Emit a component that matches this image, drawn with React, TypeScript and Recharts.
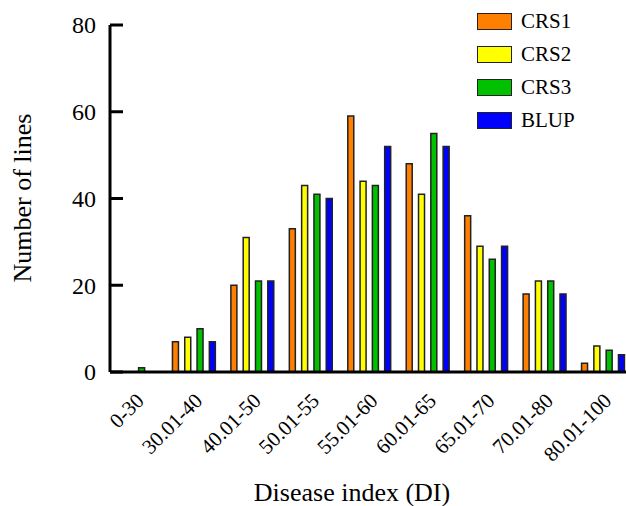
import { BarChart, Bar, XAxis, YAxis } from "recharts";

const categories = ["0-30", "30.01-40", "40.01-50", "50.01-55", "55.01-60", "60.01-65", "65.01-70", "70.01-80", "80.01-100"];
const crs1 = [0, 7, 20, 33, 59, 48, 36, 18, 2];
const crs2 = [0, 8, 31, 43, 44, 41, 29, 21, 6];
const crs3 = [1, 10, 21, 41, 43, 55, 26, 21, 5];
const blup = [0, 7, 21, 40, 52, 52, 29, 18, 4];
const yTicks = [0, 20, 40, 60, 80];

const seriesList = [
  { key: "CRS1", color: "#FF7F00" },
  { key: "CRS2", color: "#FFFF00" },
  { key: "CRS3", color: "#00C000" },
  { key: "BLUP", color: "#0000FF" },
];

const data = categories.map((c, i) => ({
  name: c,
  CRS1: crs1[i],
  CRS2: crs2[i],
  CRS3: crs3[i],
  BLUP: blup[i],
}));

const FONT = "'Liberation Serif', 'Times New Roman', serif";

const YTick = ({ x, y, payload }: any) => (
  <g>
    <line x1={x} y1={y} x2={x + 13} y2={y} stroke="#000" strokeWidth={3} />
    <text x={x - 14} y={y} dy="0.35em" textAnchor="end" fontSize={24} fontFamily={FONT} fill="#000">
      {payload.value}
    </text>
  </g>
);

const XTick = ({ x, y, payload }: any) => (
  <text
    x={x + 10}
    y={y + 30}
    textAnchor="end"
    fontSize={21}
    fontFamily={FONT}
    fill="#000"
    transform={`rotate(-45, ${x + 10}, ${y + 30})`}
  >
    {payload.value}
  </text>
);

// legend drawn as plain html so it doesn't shrink the plot
const LegendBox = () => (
  <div style={{ position: "absolute", left: 477, top: 5, fontFamily: FONT, fontSize: 21, color: "#000" }}>
    {seriesList.map((s) => (
      <div key={s.key} style={{ display: "flex", alignItems: "center", height: 33 }}>
        <div
          style={{
            width: 33,
            height: 15,
            background: s.color,
            border: "1.5px solid #222",
            marginRight: 9,
          }}
        />
        <span>{s.key}</span>
      </div>
    ))}
  </div>
);

export default function App() {
  return (
    <div style={{ position: "absolute", left: 0, top: 0, width: 626, height: 506, overflow: "hidden", background: "#fff" }}>
      <BarChart
        width={645}
        height={506}
        data={data}
        margin={{ top: 25, right: 13, bottom: 34, left: 0 }}
        barSize={6}
        barGap={6.3}
      >
        <XAxis
          dataKey="name"
          height={100}
          padding={{ left: -4, right: 0 }}
          tickLine={false}
          tickSize={0}
          tickMargin={0}
          tick={<XTick />}
          interval={0}
          axisLine={{ stroke: "#000", strokeWidth: 3 }}
          label={{
            content: () => (
              <text x={352} y={501} textAnchor="middle" fontSize={26} fontFamily={FONT} fill="#000">
                Disease index (DI)
              </text>
            ),
          }}
        />
        <YAxis
          width={110}
          domain={[0, 80]}
          ticks={yTicks}
          tickLine={false}
          tickSize={0}
          tickMargin={0}
          tick={<YTick />}
          axisLine={{ stroke: "#000", strokeWidth: 3 }}
          label={{
            content: () => (
              <text
                x={31}
                y={198}
                textAnchor="middle"
                fontSize={26}
                fontFamily={FONT}
                fill="#000"
                transform="rotate(-90, 31, 198)"
              >
                Number of lines
              </text>
            ),
          }}
        />
        {seriesList.map((s) => (
          <Bar
            key={s.key}
            dataKey={s.key}
            fill={s.color}
            stroke="#222"
            strokeWidth={1.5}
            isAnimationActive={false}
          />
        ))}
      </BarChart>
      <LegendBox />
    </div>
  );
}
